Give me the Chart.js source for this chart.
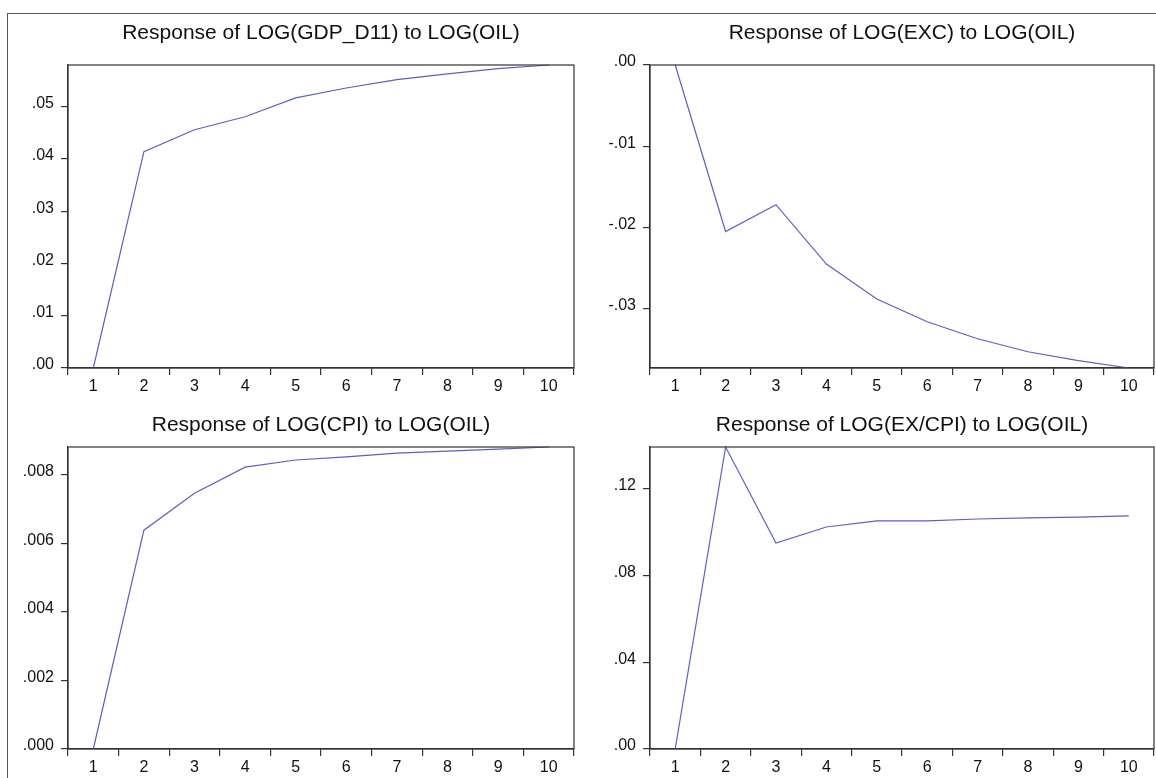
<!DOCTYPE html>
<html>
<head>
<meta charset="utf-8">
<script src="https://cdn.jsdelivr.net/npm/chart.js@4.4.1/dist/chart.umd.min.js"></script>
<style>
  html, body { margin: 0; padding: 0; background: #fff; overflow: hidden; }
  body { width: 1156px; height: 778px; position: relative; }
  #frame { position: absolute; left: 7px; top: 13px; width: 1200px; height: 800px; border: 1px solid #555; }
  .box { position: absolute; }
</style>
</head>
<body>
<div id="frame"></div>
<div class="box" style="left:0;top:14px;width:578px;height:386px"><canvas id="c1"></canvas></div>
<div class="box" style="left:578px;top:14px;width:578px;height:386px"><canvas id="c2"></canvas></div>
<div class="box" style="left:0;top:400px;width:578px;height:378px"><canvas id="c3"></canvas></div>
<div class="box" style="left:578px;top:400px;width:578px;height:378px"><canvas id="c4"></canvas></div>
<script>
// periods
const periods = ['1', '2', '3', '4', '5', '6', '7', '8', '9', '10'];

// responses to LOG(OIL)
const gdpResp = [0, 0.0414, 0.0456, 0.0481, 0.0517, 0.0536, 0.0552, 0.0563, 0.0573, 0.0580];
const excResp = [0, -0.0205, -0.0172, -0.0245, -0.0288, -0.0316, -0.0337, -0.0353, -0.0364, -0.0373];
const cpiResp = [0, 0.00639, 0.00747, 0.00823, 0.00844, 0.00853, 0.00864, 0.00870, 0.00876, 0.00882];
const excpiResp = [0, 0.1393, 0.0950, 0.1024, 0.1052, 0.1052, 0.1061, 0.1066, 0.1070, 0.1075];

// y ticks
const gdpTicks = [0, 0.01, 0.02, 0.03, 0.04, 0.05];
const gdpTickLabels = ['.00', '.01', '.02', '.03', '.04', '.05'];
const excTicks = [-0.03, -0.02, -0.01, 0];
const excTickLabels = ['-.03', '-.02', '-.01', '.00'];
const cpiTicks = [0, 0.002, 0.004, 0.006, 0.008];
const cpiTickLabels = ['.000', '.002', '.004', '.006', '.008'];
const excpiTicks = [0, 0.04, 0.08, 0.12];
const excpiTickLabels = ['.00', '.04', '.08', '.12'];

const FONT = "'Liberation Sans', Arial, sans-serif";
const INK = '#111';
const AXIS = '#333';
const LINE = '#5b5fc4';

// draws the box around the plot area
const framePlugin = {
  id: 'frame',
  afterDatasetsDraw(chart) {
    const a = chart.chartArea;
    const ctx = chart.ctx;
    ctx.save();
    ctx.strokeStyle = AXIS;
    ctx.lineWidth = 1.2;
    ctx.strokeRect(a.left, a.top, a.right - a.left, a.bottom - a.top);
    ctx.restore();
  }
};

function makeChart(id, title, values, yMin, yMax, ticks, tickLabels, opt) {
  return new Chart(document.getElementById(id), {
    type: 'line',
    data: {
      labels: periods,
      datasets: [{
        data: values,
        borderColor: LINE,
        borderWidth: 1.2,
        pointRadius: 0,
        tension: 0,
        fill: false,
        clip: false
      }]
    },
    options: {
      responsive: true,
      maintainAspectRatio: false,
      animation: false,
      events: [],
      layout: { padding: { left: 0, right: opt.padRight, top: 0, bottom: 0 } },
      plugins: {
        legend: { display: false },
        tooltip: { enabled: false },
        title: {
          display: true,
          text: title,
          fullSize: false,
          color: INK,
          font: { family: FONT, size: 21, weight: 'normal', lineHeight: 1.2 },
          padding: { top: opt.titleTop, bottom: opt.titleBottom }
        }
      },
      scales: {
        x: {
          type: 'category',
          offset: true,
          afterFit(scale) { scale.height = opt.xHeight; },
          grid: { offset: true, drawOnChartArea: false, drawTicks: true, tickLength: 7, color: AXIS, lineWidth: 1.2 },
          border: { display: true, color: AXIS, width: 1.2 },
          ticks: { color: INK, font: { family: FONT, size: 16 }, padding: 2, maxRotation: 0, autoSkip: false }
        },
        y: {
          min: yMin,
          max: yMax,
          afterFit(scale) { scale.width = opt.yWidth; },
          afterBuildTicks(scale) { scale.ticks = ticks.map(v => ({ value: v })); },
          grid: { drawOnChartArea: false, drawTicks: true, tickLength: 7, color: AXIS, lineWidth: 1.2 },
          border: { display: true, color: AXIS, width: 1.2 },
          ticks: {
            color: INK,
            font: { family: FONT, size: 16 },
            padding: 7,
            labelOffset: -3,
            callback: (v) => {
              const i = ticks.findIndex(t => Math.abs(t - v) < 1e-9);
              return i >= 0 ? tickLabels[i] : '';
            }
          }
        }
      }
    },
    plugins: [framePlugin]
  });
}

const topOpt = { titleTop: 6.4, titleBottom: 19.4, xHeight: 32 };
const botOpt = { titleTop: 12.4, titleBottom: 9.4, xHeight: 29 };

makeChart('c1', 'Response of LOG(GDP_D11) to LOG(OIL)', gdpResp, 0, 0.058, gdpTicks, gdpTickLabels,
  Object.assign({ yWidth: 68, padRight: 4 }, topOpt));
makeChart('c2', 'Response of LOG(EXC) to LOG(OIL)', excResp, -0.0373, 0, excTicks, excTickLabels,
  Object.assign({ yWidth: 72, padRight: 2 }, topOpt));
makeChart('c3', 'Response of LOG(CPI) to LOG(OIL)', cpiResp, 0, 0.00882, cpiTicks, cpiTickLabels,
  Object.assign({ yWidth: 68, padRight: 4 }, botOpt));
makeChart('c4', 'Response of LOG(EX/CPI) to LOG(OIL)', excpiResp, 0, 0.1393, excpiTicks, excpiTickLabels,
  Object.assign({ yWidth: 72, padRight: 2 }, botOpt));
</script>
</body>
</html>
